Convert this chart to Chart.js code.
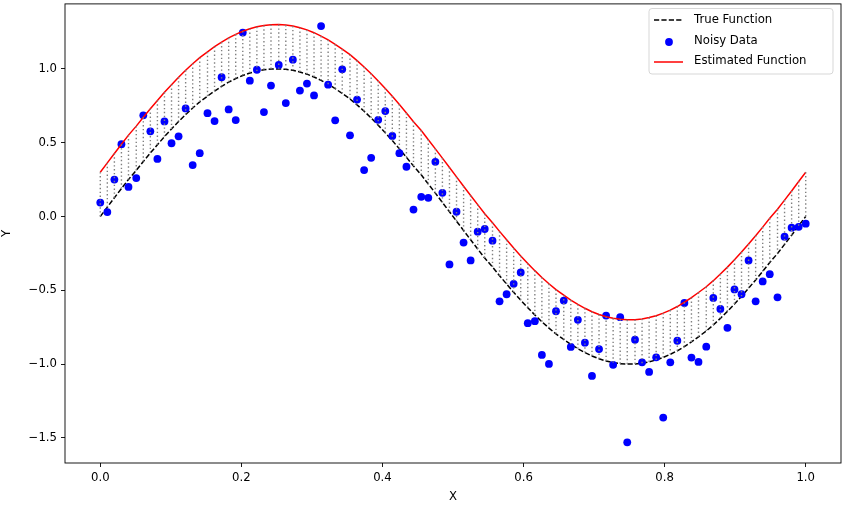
<!DOCTYPE html>
<html>
<head>
<meta charset="utf-8">
<script src="https://cdn.jsdelivr.net/npm/chart.js@4.4.1/dist/chart.umd.min.js"></script>
<style>
  body { margin: 0; background: #fff; }
  #wrap { width: 845px; height: 509px; }
</style>
</head>
<body>
<div id="wrap"><canvas id="myChart" width="845" height="509"></canvas></div>
<script>
  // x positions of the samples
  const xs = [
    0.000, 0.010, 0.020, 0.030, 0.040, 0.051, 0.061, 0.071, 0.081, 0.091,
    0.101, 0.111, 0.121, 0.131, 0.141, 0.152, 0.162, 0.172, 0.182, 0.192,
    0.202, 0.212, 0.222, 0.232, 0.242, 0.253, 0.263, 0.273, 0.283, 0.293,
    0.303, 0.313, 0.323, 0.333, 0.343, 0.354, 0.364, 0.374, 0.384, 0.394,
    0.404, 0.414, 0.424, 0.434, 0.444, 0.455, 0.465, 0.475, 0.485, 0.495,
    0.505, 0.515, 0.525, 0.535, 0.545, 0.556, 0.566, 0.576, 0.586, 0.596,
    0.606, 0.616, 0.626, 0.636, 0.646, 0.657, 0.667, 0.677, 0.687, 0.697,
    0.707, 0.717, 0.727, 0.737, 0.747, 0.758, 0.768, 0.778, 0.788, 0.798,
    0.808, 0.818, 0.828, 0.838, 0.848, 0.859, 0.869, 0.879, 0.889, 0.899,
    0.909, 0.919, 0.929, 0.939, 0.949, 0.960, 0.970, 0.980, 0.990, 1.000
  ];

  // True Function
  const trueY = [
    0.000, 0.063, 0.127, 0.189, 0.251, 0.312, 0.372, 0.430, 0.486, 0.541,
    0.593, 0.643, 0.690, 0.735, 0.776, 0.815, 0.850, 0.881, 0.910, 0.934,
    0.955, 0.972, 0.985, 0.994, 0.999, 1.000, 0.997, 0.990, 0.979, 0.964,
    0.945, 0.922, 0.896, 0.866, 0.833, 0.796, 0.756, 0.713, 0.667, 0.618,
    0.567, 0.514, 0.458, 0.401, 0.342, 0.282, 0.220, 0.158, 0.095, 0.032,
    -0.032, -0.095, -0.158, -0.220, -0.282, -0.342, -0.401, -0.458, -0.514, -0.567,
    -0.618, -0.667, -0.713, -0.756, -0.796, -0.833, -0.866, -0.896, -0.922, -0.945,
    -0.964, -0.979, -0.990, -0.997, -1.000, -0.999, -0.994, -0.985, -0.972, -0.955,
    -0.934, -0.910, -0.881, -0.850, -0.815, -0.776, -0.735, -0.690, -0.643, -0.593,
    -0.541, -0.486, -0.430, -0.372, -0.312, -0.251, -0.189, -0.127, -0.063, 0.000
  ];

  // Estimated Function
  const estY = [
    0.300, 0.363, 0.427, 0.489, 0.551, 0.612, 0.672, 0.730, 0.786, 0.841,
    0.893, 0.943, 0.990, 1.035, 1.076, 1.115, 1.150, 1.181, 1.210, 1.234,
    1.255, 1.272, 1.285, 1.294, 1.299, 1.300, 1.297, 1.290, 1.279, 1.264,
    1.245, 1.222, 1.196, 1.166, 1.133, 1.096, 1.056, 1.013, 0.967, 0.918,
    0.867, 0.814, 0.758, 0.701, 0.642, 0.582, 0.520, 0.458, 0.395, 0.332,
    0.268, 0.205, 0.142, 0.080, 0.018, -0.042, -0.101, -0.158, -0.214, -0.267,
    -0.318, -0.367, -0.413, -0.456, -0.496, -0.533, -0.566, -0.596, -0.622, -0.645,
    -0.664, -0.679, -0.690, -0.697, -0.700, -0.699, -0.694, -0.685, -0.672, -0.655,
    -0.634, -0.610, -0.581, -0.550, -0.515, -0.476, -0.435, -0.390, -0.343, -0.293,
    -0.241, -0.186, -0.130, -0.072, -0.012, 0.049, 0.111, 0.173, 0.237, 0.300
  ];

  // Noisy Data
  const noisyY = [
    0.094, 0.030, 0.250, 0.490, 0.200, 0.260, 0.685, 0.577, 0.390, 0.644,
    0.496, 0.543, 0.732, 0.348, 0.429, 0.700, 0.646, 0.943, 0.725, 0.653,
    1.246, 0.920, 0.994, 0.707, 0.887, 1.026, 0.768, 1.062, 0.853, 0.900,
    0.820, 1.290, 0.893, 0.651, 0.997, 0.550, 0.792, 0.314, 0.397, 0.655,
    0.714, 0.545, 0.429, 0.337, 0.047, 0.133, 0.126, 0.370, 0.160, -0.325,
    0.032, -0.177, -0.298, -0.103, -0.085, -0.164, -0.575, -0.527, -0.456, -0.379,
    -0.723, -0.709, -0.938, -0.999, -0.642, -0.570, -0.884, -0.700, -0.855, -1.080,
    -0.898, -0.671, -1.005, -0.682, -1.530, -0.835, -0.988, -1.053, -0.954, -1.362,
    -0.988, -0.842, -0.586, -0.956, -0.985, -0.882, -0.552, -0.626, -0.754, -0.494,
    -0.527, -0.298, -0.575, -0.440, -0.391, -0.548, -0.137, -0.076, -0.070, -0.049
  ];

  const xTicks = [0, 0.2, 0.4, 0.6, 0.8, 1.0];
  const xTickLabels = ['0.0', '0.2', '0.4', '0.6', '0.8', '1.0'];
  const yTicks = [-1.5, -1.0, -0.5, 0, 0.5, 1.0];
  const yTickLabels = ['\u22121.5', '\u22121.0', '\u22120.5', '0.0', '0.5', '1.0'];

  const FONT = { family: 'DejaVu Sans', size: 11.7 };
  const LW = 1.5;
  const DASH = [5.2, 2.2];

  // vertical dotted segments between the two curves, broken by nulls
  const gapPoints = [];
  xs.forEach((x, i) => {
    gapPoints.push({ x: x, y: trueY[i] });
    gapPoints.push({ x: x, y: estY[i] });
    gapPoints.push({ x: x, y: null });
  });

  const data = {
    datasets: [
      {
        label: 'gap',
        type: 'line',
        data: gapPoints,
        borderColor: 'gray',
        borderWidth: 1.4,
        borderDash: [1.4, 2.5],
        borderCapStyle: 'butt',
        pointRadius: 0,
        spanGaps: false,
        fill: false,
        tension: 0
      },
      {
        label: 'Estimated Function',
        type: 'line',
        data: xs.map((x, i) => ({ x: x, y: estY[i] })),
        borderColor: 'red',
        borderWidth: LW,
        pointRadius: 0,
        fill: false,
        tension: 0
      },
      {
        label: 'Noisy Data',
        type: 'scatter',
        data: xs.map((x, i) => ({ x: x, y: noisyY[i] })),
        backgroundColor: '#0000ff',
        borderColor: '#0000ff',
        borderWidth: 0,
        pointRadius: 3.9,
        pointHoverRadius: 3.9
      },
      {
        label: 'True Function',
        type: 'line',
        data: xs.map((x, i) => ({ x: x, y: trueY[i] })),
        borderColor: 'black',
        borderWidth: LW,
        borderDash: DASH,
        borderCapStyle: 'butt',
        pointRadius: 0,
        fill: false,
        tension: 0
      }
    ]
  };

  // box round the plot + legend inside the plot
  const framePlugin = {
    id: 'frame',
    afterDraw(chart) {
      const ctx = chart.ctx;
      const a = chart.chartArea;
      ctx.save();
      ctx.strokeStyle = '#000';
      ctx.lineWidth = 0.9;
      ctx.setLineDash([]);
      ctx.strokeRect(a.left, a.top, a.right - a.left, a.bottom - a.top);

      // legend
      const bx = 649, by = 8.5, bw = 184, bh = 65.5, r = 3;
      ctx.beginPath();
      ctx.roundRect(bx, by, bw, bh, r);
      ctx.fillStyle = 'rgba(255,255,255,0.8)';
      ctx.fill();
      ctx.strokeStyle = '#d0d0d0';
      ctx.lineWidth = 0.85;
      ctx.stroke();

      ctx.lineWidth = LW;
      ctx.strokeStyle = 'black';
      ctx.setLineDash(DASH);
      ctx.beginPath();
      ctx.moveTo(654, 20);
      ctx.lineTo(683, 20);
      ctx.stroke();
      ctx.setLineDash([]);

      ctx.fillStyle = '#0000ff';
      ctx.beginPath();
      ctx.arc(669, 42, 3.9, 0, Math.PI * 2);
      ctx.fill();

      ctx.strokeStyle = 'red';
      ctx.beginPath();
      ctx.moveTo(654, 62);
      ctx.lineTo(683, 62);
      ctx.stroke();

      ctx.fillStyle = '#000';
      ctx.font = '11.7px "DejaVu Sans"';
      ctx.textBaseline = 'middle';
      ctx.textAlign = 'left';
      ctx.fillText('True Function', 694, 20);
      ctx.fillText('Noisy Data', 694, 40.5);
      ctx.fillText('Estimated Function', 694, 61);
      ctx.restore();
    }
  };

  const config = {
    type: 'line',
    data: data,
    options: {
      responsive: false,
      animation: false,
      layout: { padding: { left: 0, right: 4, top: 1.7, bottom: 0 } },
      plugins: {
        legend: { display: false },
        tooltip: { enabled: false }
      },
      scales: {
        x: {
          type: 'linear',
          min: -0.05,
          max: 1.05,
          afterBuildTicks: (scale) => { scale.ticks = xTicks.map(v => ({ value: v })); },
          afterFit: (scale) => { scale.height = 46; scale.paddingLeft = 0; scale.paddingRight = 0; },
          border: { display: false },
          grid: { drawOnChartArea: false, drawTicks: true, tickLength: 4, color: '#000', lineWidth: 0.9 },
          ticks: {
            color: '#000',
            font: FONT,
            padding: 4,
            maxRotation: 0,
            callback: (v, i) => xTickLabels[i]
          },
          title: { display: true, text: 'X', color: '#000', font: FONT, padding: { top: 0, bottom: 5 } }
        },
        y: {
          type: 'linear',
          min: -1.67,
          max: 1.44,
          afterBuildTicks: (scale) => { scale.ticks = yTicks.map(v => ({ value: v })); },
          afterFit: (scale) => { scale.width = 65; scale.paddingTop = 0; scale.paddingBottom = 0; },
          border: { display: false },
          grid: { drawOnChartArea: false, drawTicks: true, tickLength: 4, color: '#000', lineWidth: 0.9 },
          ticks: {
            color: '#000',
            font: FONT,
            padding: 4,
            callback: (v, i) => yTickLabels[i]
          },
          title: { display: true, text: 'Y', color: '#000', font: FONT, padding: { top: 0, bottom: 0 } }
        }
      }
    },
    plugins: [framePlugin]
  };

  const myChart = new Chart(
    document.getElementById('myChart'),
    config
  );
</script>
</body>
</html>
